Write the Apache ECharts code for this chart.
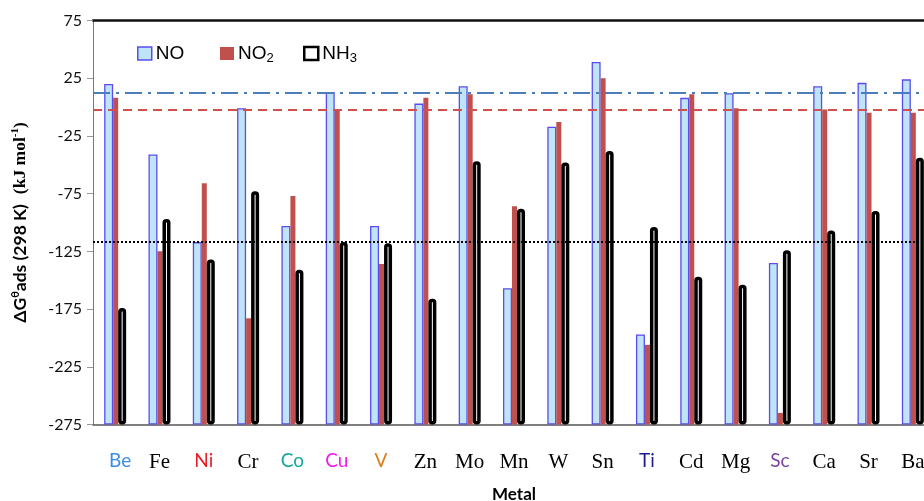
<!DOCTYPE html>
<html>
<head>
<meta charset="utf-8">
<script src="https://cdn.jsdelivr.net/npm/echarts@6/dist/echarts.min.js"></script>
<style>
html,body{margin:0;padding:0;background:#fff;}
#chart{width:924px;height:501px;}
</style>
</head>
<body>
<div id="chart"></div>
<script>
const categories = ['Be','Fe','Ni','Cr','Co','Cu','V','Zn','Mo','Mn','W','Sn','Ti','Cd','Mg','Sc','Ca','Sr','Ba'];
const labelStyles = ['be','t','ni','t','co','cu','v','t','t','t','t','t','ti','t','t','sc','t','t','t'];
const noValues  = [20, -41, -117, -1, -103, 13, -103, 3, 18, -157, -17, 39, -197, 8, 12, -135, 18, 21, 24];
const no2Values = [8, -125, -66, -183, -77, -2, -136, 8, 11, -86, -13, 25, -206, 11, -1, -265, -2, -5, -5];
const nh3Values = [-174, -97, -132, -73, -141, -117, -118, -166, -47, -88, -48, -38, -104, -147, -154, -124, -107, -90, -44];
const refNO = 12.5;
const refNO2 = -2.4;
const refNH3 = -117;
const yMin = -275, yMax = 75, yStep = 50;

const chart = echarts.init(document.getElementById('chart'));
const sans = 'Lato';
const serif = 'Liberation Serif';
const catRich = {
  t:  {fontFamily: serif, fontSize: 21, color: '#000'},
  be: {fontFamily: sans, fontSize: 19, color: '#3a8ee6', padding: [0, 0, 0, 10]},
  ni: {fontFamily: sans, fontSize: 19, color: '#ec1c24'},
  co: {fontFamily: sans, fontSize: 19, color: '#13a89e'},
  cu: {fontFamily: sans, fontSize: 19, color: '#ee1de8'},
  v:  {fontFamily: sans, fontSize: 19, color: '#e07b17'},
  ti: {fontFamily: sans, fontSize: 19, color: '#1b1b96'},
  sc: {fontFamily: sans, fontSize: 19, color: '#7a3fa3'}
};
const legRich = {
  n: {fontFamily: 'Liberation Sans', fontSize: 19, color: '#000'},
  s: {fontFamily: 'Liberation Sans', fontSize: 13, color: '#000', padding: [10, 0, 0, 0]}
};
function legFmt(name) {
  if (name === 'NO2') return '{n|NO}{s|2}';
  if (name === 'NH3') return '{n|NH}{s|3}';
  return '{n|' + name + '}';
}
function mkLegend(name, left, style) {
  return {
    left: left, top: 44, padding: 0, itemWidth: 14, itemHeight: 13, itemGap: 4,
    data: [{name: name, icon: 'rect', itemStyle: style}],
    formatter: legFmt,
    textStyle: {rich: legRich, padding: [0, 0, 0, -1]},
    selectedMode: false
  };
}

const option = {
  animation: false,
  backgroundColor: '#fff',
  grid: {left: 93, right: -11, top: 20.5, bottom: 76.5, containLabel: false, outerBoundsMode: 'none'},
  legend: [
    mkLegend('NO', 137, {color: '#bfe4f5', borderColor: '#5a4cf0', borderWidth: 1.5}),
    mkLegend('NO2', 220, {color: '#c0504d', borderWidth: 0}),
    mkLegend('NH3', 303, {color: '#fff', borderColor: '#000', borderWidth: 2.5})
  ],
  xAxis: [{
    type: 'category',
    data: categories,
    position: 'bottom',
    axisLine: {onZero: false, lineStyle: {color: '#555', width: 1.5}},
    axisTick: {show: false},
    axisLabel: {
      margin: 27,
      interval: 0,
      formatter: function (v, i) { return '{' + labelStyles[i] + '|' + v + '}'; },
      rich: catRich
    },
    name: 'Metal',
    nameLocation: 'middle',
    nameGap: 62,
    nameTextStyle: {fontFamily: sans, fontWeight: 'bold', fontSize: 17, color: '#000'}
  }, {
    type: 'category',
    data: categories,
    position: 'top',
    axisLine: {onZero: false, lineStyle: {color: '#111', width: 2.5}},
    axisTick: {show: false},
    axisLabel: {show: false}
  }],
  yAxis: {
    type: 'value',
    min: yMin, max: yMax, interval: yStep,
    startValue: yMin,
    axisLine: {show: true, onZero: false, lineStyle: {color: '#777', width: 1}},
    axisTick: {show: true, length: 6, lineStyle: {color: '#999'}},
    splitLine: {show: false},
    axisLabel: {margin: 11, fontFamily: sans, fontSize: 16, color: '#111'},
    name: '{a|ΔG}{sup|θ}{a|ads (298 K)}   {b|(kJ mol}{bs|-1}{b|)}',
    nameLocation: 'middle',
    nameRotate: 90,
    nameGap: 62,
    nameTextStyle: {
      rich: {
        a: {fontFamily: sans, fontWeight: 'bold', fontSize: 17.5, color: '#000', lineHeight: 22},
        sup: {fontFamily: sans, fontWeight: 'bold', fontSize: 11, color: '#000', lineHeight: 22, padding: [0, 0, 9, 0]},
        b: {fontFamily: serif, fontWeight: 'bold', fontSize: 17.5, color: '#000', lineHeight: 22},
        bs: {fontFamily: serif, fontWeight: 'bold', fontSize: 11, color: '#000', lineHeight: 22, padding: [0, 0, 9, 0]}
      }
    }
  },
  series: [{
    name: 'NO', type: 'bar', data: noValues, barWidth: 9,
    itemStyle: {color: '#bfe4f5', borderColor: '#5a4cf0', borderWidth: 1.3}
  }, {
    name: 'NO2', type: 'bar', data: no2Values, barWidth: 5,
    itemStyle: {color: '#c0504d'}
  }, {
    name: 'NH3', type: 'bar', data: nh3Values, barWidth: 8, barGap: '0%',
    itemStyle: {color: '#fff', borderColor: '#000', borderWidth: 3.5, borderRadius: 2},
    markLine: {
      silent: true, symbol: 'none', label: {show: false},
      data: [
        {yAxis: refNO, lineStyle: {color: '#4a7ebb', width: 2.2, type: [17, 6, 3, 6]}},
        {yAxis: refNO2, lineStyle: {color: '#d0504d', width: 2, type: [9, 6]}},
        {yAxis: refNH3, lineStyle: {color: '#000', width: 2, type: [2, 2]}}
      ]
    }
  }]
};
chart.setOption(option);
</script>
</body>
</html>
